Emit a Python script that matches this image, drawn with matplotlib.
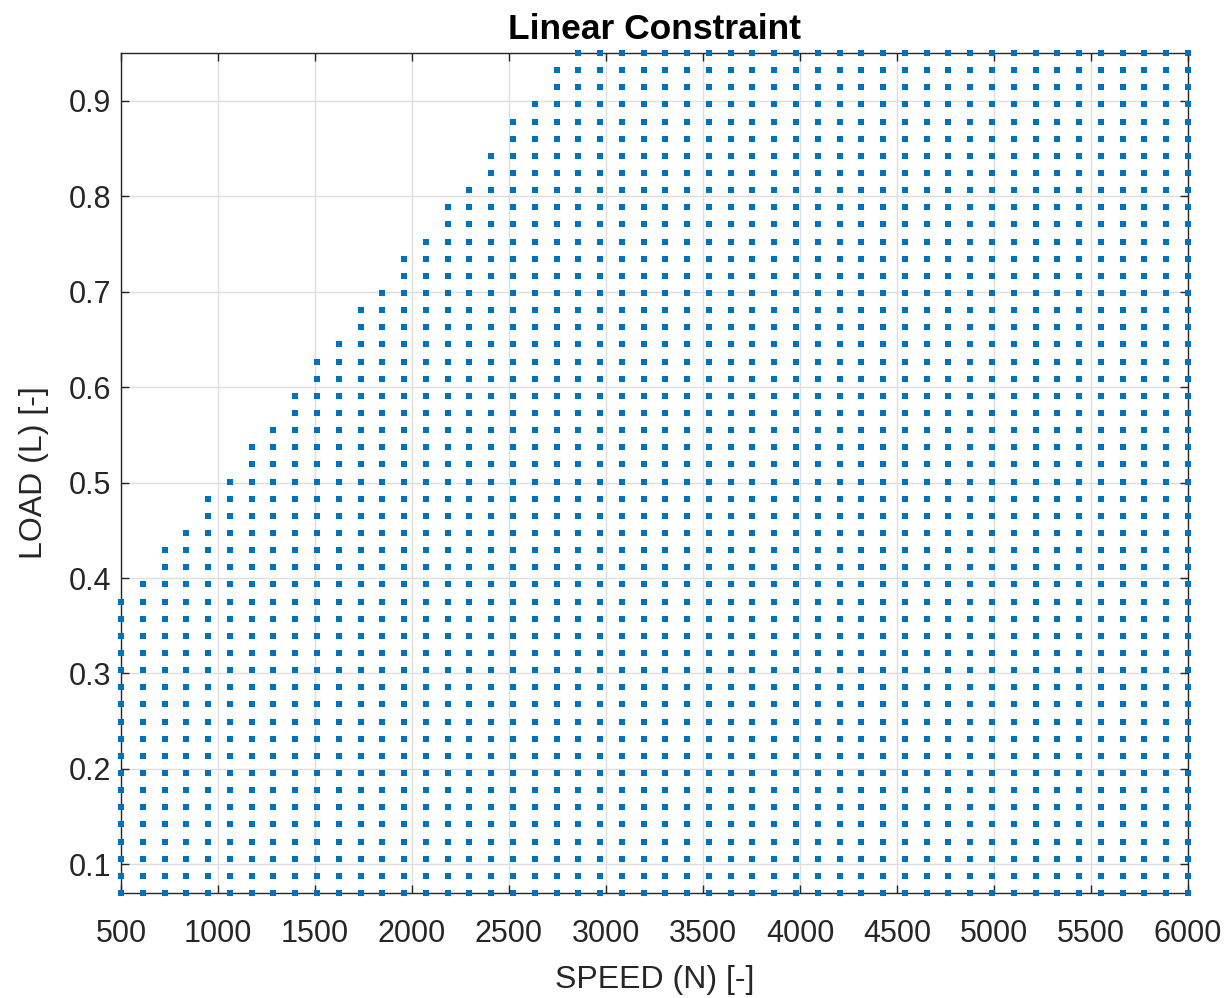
import numpy as np
import matplotlib
matplotlib.use("Agg")
import matplotlib.pyplot as plt

plt.rcParams['font.family'] = ['Liberation Sans', 'DejaVu Sans']

# grid levels of the operating points
speed_levels = np.linspace(500, 6000, 50)
load_levels = np.linspace(0.07, 0.95, 50)

# number of load levels kept in each speed column
rows_kept = [18, 19, 21, 22, 24, 25, 27, 28, 30, 32, 33, 35, 36, 38, 39, 41, 42,
             44, 46, 47, 49] + [50] * 29

xticks = list(range(500, 6001, 500))
yticks = [0.1, 0.2, 0.3, 0.4, 0.5, 0.6, 0.7, 0.8, 0.9]

N, L = [], []
for s, n in zip(speed_levels, rows_kept):
    N.extend([s] * n)
    L.extend(load_levels[:n])

fig = plt.figure(figsize=(12.32, 9.98), dpi=100)
ax = fig.add_axes([0.0982, 0.1052, 0.8661, 0.8417])

ax.plot(N, L, linestyle='none', marker='s', markersize=4.0,
        color='#0072BD', markeredgewidth=0, clip_on=False, zorder=5)

ax.set_xlim(500, 6000)
ax.set_ylim(0.07, 0.95)
ax.set_xticks(xticks)
ax.set_yticks(yticks)
ax.grid(True, color='#dedede', linewidth=1.0)
ax.set_axisbelow(True)
ax.tick_params(direction='in', length=6, width=1, colors='#262626',
               labelsize=22, top=True, right=True)
ax.tick_params(axis='x', pad=19)
ax.tick_params(axis='y', pad=7)
for sp in ax.spines.values():
    sp.set_color('#262626')
    sp.set_linewidth(1.0)

ax.set_xlabel('SPEED (N) [-]', fontsize=23, color='#262626', labelpad=11)
ax.set_ylabel('LOAD (L) [-]', fontsize=23, color='#262626', labelpad=14)
ax.set_title('Linear Constraint', fontsize=25.5, fontweight='bold', pad=10)

fig.savefig('out.png', dpi=100)
